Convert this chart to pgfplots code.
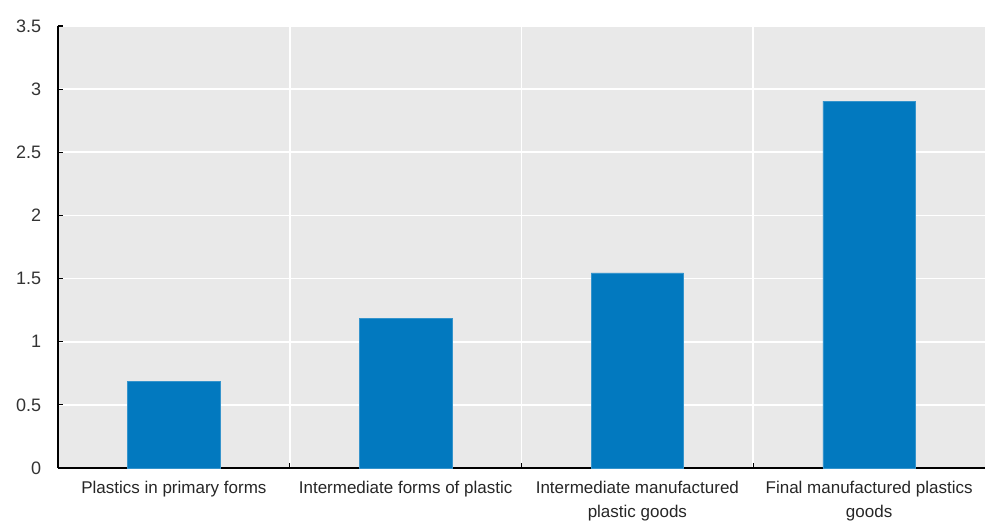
\documentclass[border=0pt]{standalone}
\usepackage{fontspec}
\setmainfont{Liberation Sans}
\usepackage{pgfplots}
\pgfplotsset{compat=1.18}
\definecolor{bgc}{RGB}{233,233,233}
\definecolor{barc}{RGB}{2,121,191}
\begin{document}
\fontsize{17}{24}\selectfont
\begin{tikzpicture}
\begin{axis}[
  scale only axis,
  width=927pt, height=442pt,
  xmin=-0.5, xmax=3.5,
  ymin=0, ymax=3.5,
  ytick={0,0.5,1,1.5,2,2.5,3,3.5},
  yticklabels={0,0.5,1,1.5,2,2.5,3,3.5},
  xtick={0,1,2,3},
  xticklabels={Plastics in primary forms, Intermediate forms of plastic, Intermediate manufactured\\plastic goods, Final manufactured plastics\\goods},
  minor xtick={0.5,1.5,2.5},
  xminorgrids=true,
  ymajorgrids=true,
  axis x line*=bottom,
  axis y line*=left,
  axis line style={black, line width=1.4pt, -},
  axis background/.style={fill=bgc},
  grid style={white, line width=1.6pt},
  minor grid style={white, line width=1.6pt},
  major x tick style={draw=none},
  minor x tick style={black, line width=1.2pt},
  y tick style={black, line width=1.2pt},
  tick align=inside,
  major tick length=5pt,
  minor tick length=5pt,
  xticklabel style={font=\fontsize{17}{24}\selectfont, align=center, yshift=-7pt, text=black!85},
  yticklabel style={font=\fontsize{18}{22}\selectfont, xshift=-11pt, text=black!80},
  /pgf/number format/assume math mode=true,
  bar width=0.4,
  clip=false,
]
\addplot[ybar, fill=barc, draw=barc!80!white, line width=0.5pt] coordinates {(0,0.685) (1,1.185) (2,1.545) (3,2.905)};
\end{axis}
\pgfresetboundingbox
\path ([shift={(-58pt,-53pt)}]current axis.south west) rectangle ([shift={(1pt,26pt)}]current axis.north east);
\end{tikzpicture}
\end{document}
